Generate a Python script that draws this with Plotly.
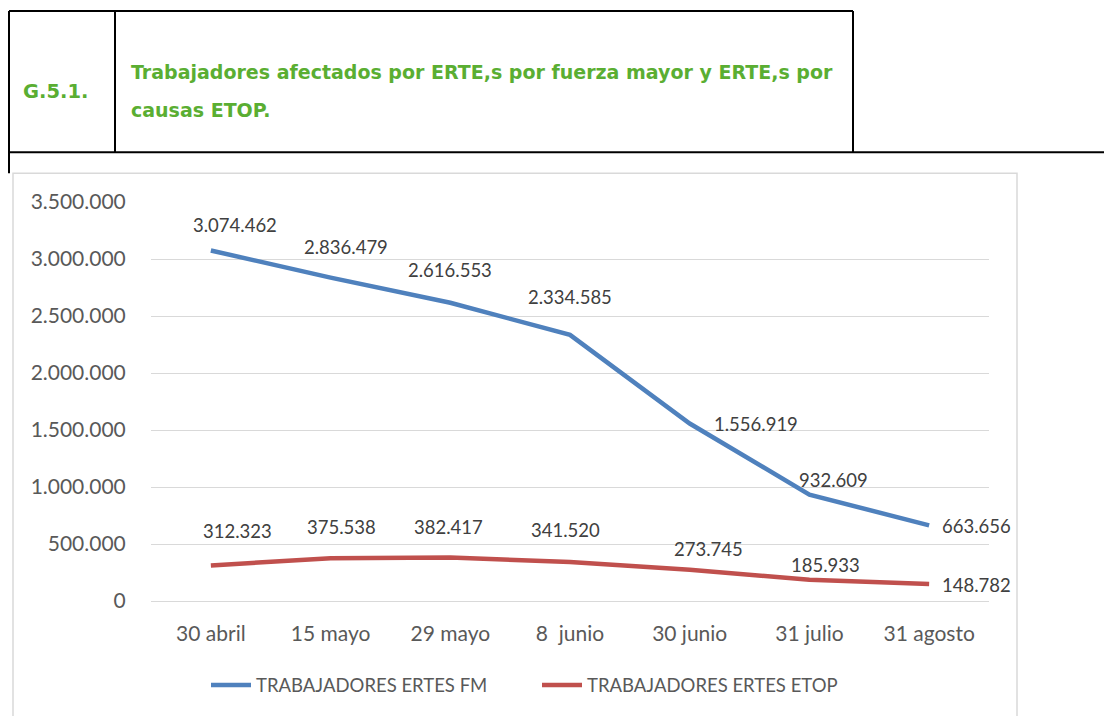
import plotly.graph_objects as go

categories = ["30 abril", "15 mayo", "29 mayo", "8  junio", "30 junio", "31 julio", "31 agosto"]
fm_values = [3074462, 2836479, 2616553, 2334585, 1556919, 932609, 663656]
etop_values = [312323, 375538, 382417, 341520, 273745, 185933, 148782]
fm_name = "TRABAJADORES ERTES FM"
etop_name = "TRABAJADORES ERTES ETOP"
y_ticks = [0, 500000, 1000000, 1500000, 2000000, 2500000, 3000000, 3500000]
code_label = "G.5.1."
title_lines = ["Trabajadores afectados por ERTE,s por fuerza mayor y ERTE,s por", "causas ETOP."]

# label offsets (pixels) for data labels: (xshift, yshift, xanchor)
fm_offsets = [(24, 26, "center"), (15, 31, "center"), (0, 33, "center"), (0, 38, "center"),
              (66, 0, "center"), (24, 15, "center"), (11, -1, "left")]
etop_offsets = [(27, 34, "center"), (11, 31, "center"), (-2, 30, "center"), (-5, 32, "center"),
                (19, 21, "center"), (16, 15, "center"), (11, -1, "left")]

OFF = 8  # page body margin
W, H = 1112 - OFF, 716 - OFF
L, R, T, B = 151, 989, 202, 603  # plot area in page coordinates


def px(x):
    return (x - L) / (R - L)


def py(y):
    return (B - y) / (B - T)


BLUE = "#4F81BD"
RED = "#C0504D"
FONT = "Lato, Carlito, Calibri, sans-serif"

fig = go.Figure()
fig.add_trace(go.Scatter(x=categories, y=fm_values, mode="lines", name=fm_name,
                         line=dict(color=BLUE, width=4.5)))
fig.add_trace(go.Scatter(x=categories, y=etop_values, mode="lines", name=etop_name,
                         line=dict(color=RED, width=4.5)))

annotations = []
for vals, offs in ((fm_values, fm_offsets), (etop_values, etop_offsets)):
    for c, v, (dx, dy, xa) in zip(categories, vals, offs):
        annotations.append(dict(
            x=c, y=v, xref="x", yref="y", text=f"{v:,}".replace(",", "."),
            showarrow=False, xanchor=xa, yanchor="middle", xshift=dx, yshift=dy,
            font=dict(family=FONT, size=18.5, color="#404040")))

HFONT = "DejaVu Sans, Verdana, sans-serif"
GREEN = "#5AAE32"
annotations.append(dict(x=px(21), y=py(91), xref="paper", yref="paper", text=f"<b>{code_label}</b>",
                        showarrow=False, xanchor="left", yanchor="middle",
                        font=dict(family=HFONT, size=19.5, color=GREEN)))
for i, line in enumerate(title_lines):
    annotations.append(dict(x=px(129), y=py(71 + 39 * i), xref="paper", yref="paper", text=f"<b>{line}</b>",
                            showarrow=False, xanchor="left", yanchor="middle",
                            font=dict(family=HFONT, size=19, color=GREEN)))

shapes = []


def seg(x0, y0, x1, y1, color="black", width=2):
    shapes.append(dict(type="line", xref="paper", yref="paper",
                       x0=px(x0), y0=py(y0), x1=px(x1), y1=py(y1),
                       line=dict(color=color, width=width)))


# chart frame (light gray)
shapes.append(dict(type="rect", xref="paper", yref="paper",
                   x0=px(13), y0=py(173), x1=px(1017), y1=py(730),
                   line=dict(color="#D9D9D9", width=1.5), fillcolor="rgba(0,0,0,0)", layer="below"))
# header table
seg(9, 10, 853, 10)
seg(9, 10, 9, 173)
seg(115, 10, 115, 152)
seg(853, 10, 853, 152)
seg(9, 152, 1120, 152)

fig.update_layout(
    width=W, height=H, autosize=False,
    margin=dict(l=L - OFF, r=1112 - R, t=T - OFF, b=716 - B, pad=0),
    paper_bgcolor="white", plot_bgcolor="white",
    separators=",.",
    showlegend=True,
    legend=dict(orientation="h", x=px(206), xanchor="left", y=py(688), yanchor="middle",
                font=dict(family=FONT, size=18.5, color="#595959"), bgcolor="rgba(0,0,0,0)",
                itemwidth=40, entrywidth=276, entrywidthmode="pixels"),
    xaxis=dict(type="category", range=[-0.5, 6.5], showgrid=False, showline=False, zeroline=False,
               ticks="outside", ticklen=14, tickcolor="rgba(0,0,0,0)",
               tickfont=dict(family=FONT, size=21, color="#595959"), fixedrange=True),
    yaxis=dict(range=[0, 3500000], tickvals=y_ticks, tickformat=",d", showgrid=True,
               gridcolor="#D9D9D9", gridwidth=1, zeroline=True, zerolinecolor="#D9D9D9", zerolinewidth=1,
               showline=False, ticks="outside", ticklen=20, tickcolor="rgba(0,0,0,0)",
               tickfont=dict(family=FONT, size=21, color="#595959"), fixedrange=True),
    annotations=annotations,
    shapes=shapes,
)

fig.write_html("out.html")
